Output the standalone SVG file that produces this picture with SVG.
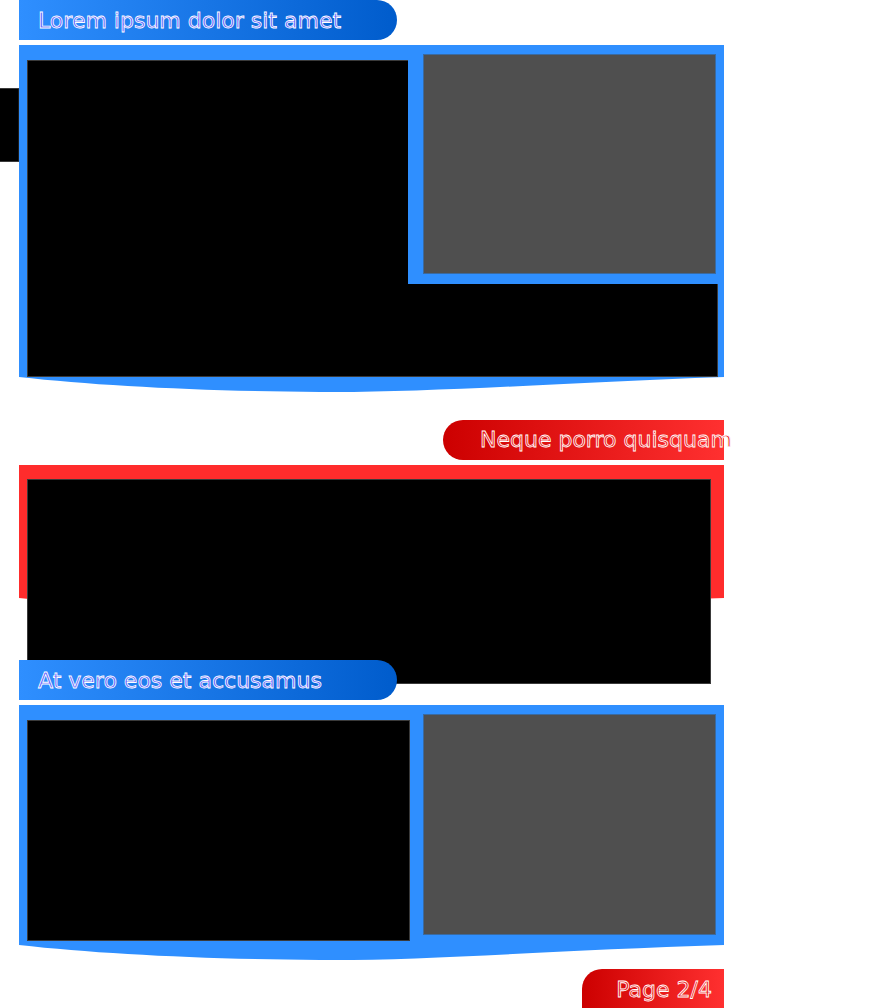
<svg xmlns="http://www.w3.org/2000/svg" width="872" height="1008" viewBox="0 0 872 1008">
<defs>
<linearGradient id="gBlue" x1="0" y1="0" x2="1" y2="0">
<stop offset="0" stop-color="#2f8fff"/>
<stop offset="1" stop-color="#005ccc"/>
</linearGradient>
<linearGradient id="gRed" x1="0" y1="0" x2="1" y2="0">
<stop offset="0" stop-color="#cc0000"/>
<stop offset="1" stop-color="#ff3030"/>
</linearGradient>
<style>
.blue{fill:#2f8fff}
.red{fill:#ff2c2c}
.blk{fill:#000;stroke:#3a3a3a;stroke-width:1}
.grey{fill:#4f4f4f;stroke:#3a6aa0;stroke-width:1}
.tb{font-family:"DejaVu Sans",sans-serif;font-size:22px;fill:#5c5cff;stroke:#ffffff;stroke-width:0.8}
.tr{font-family:"DejaVu Sans",sans-serif;font-size:22px;fill:#e81c1c;stroke:#ffffff;stroke-width:0.8}
</style>
</defs>
<rect x="-1" y="88.5" width="20" height="73" class="blk" stroke="#888"/>
<g id="section1">
<path d="M19,0 H377 A20,20 0 0 1 397,20 A20,20 0 0 1 377,40 H19 Z" fill="url(#gBlue)"/>
<text x="38" y="28" class="tb">Lorem ipsum dolor sit amet</text>
<path d="M19,45 H724 V377 C560,383 420,393 320,392 C200,391 100,386 19,377 Z" class="blue"/>
<rect x="27.5" y="60.5" width="690" height="316" class="blk"/>
<rect x="408" y="45" width="316" height="239" class="blue"/>
<rect x="423.5" y="54.5" width="292" height="219" class="grey"/>
</g>
<g id="section2">
<path d="M724,420 H463 A20,20 0 0 0 443,440 A20,20 0 0 0 463,460 H724 Z" fill="url(#gRed)"/>
<text x="480" y="447" class="tr">Neque porro quisquam</text>
<path d="M19,465 H724 V598 C560,604 420,614 320,613 C200,612 100,607 19,598 Z" class="red"/>
<rect x="27.5" y="479.5" width="683" height="204" class="blk"/>
</g>
<g id="section3">
<path d="M19,660 H377 A20,20 0 0 1 397,680 A20,20 0 0 1 377,700 H19 Z" fill="url(#gBlue)"/>
<text x="38" y="688" class="tb">At vero eos et accusamus</text>
<path d="M19,705 H724 V945 C560,950 420,961 320,960 C200,959 100,954 19,945 Z" class="blue"/>
<rect x="27.5" y="720.5" width="382" height="220" class="blk"/>
<rect x="423.5" y="714.5" width="292" height="220" class="grey"/>
</g>
<g id="footer">
<path d="M724,969 H602 A20,20 0 0 0 582,989 V1008 H724 Z" fill="url(#gRed)"/>
<text x="712" y="997" text-anchor="end" class="tr">Page 2/4</text>
</g>
<g id="connectors"/>
</svg>
